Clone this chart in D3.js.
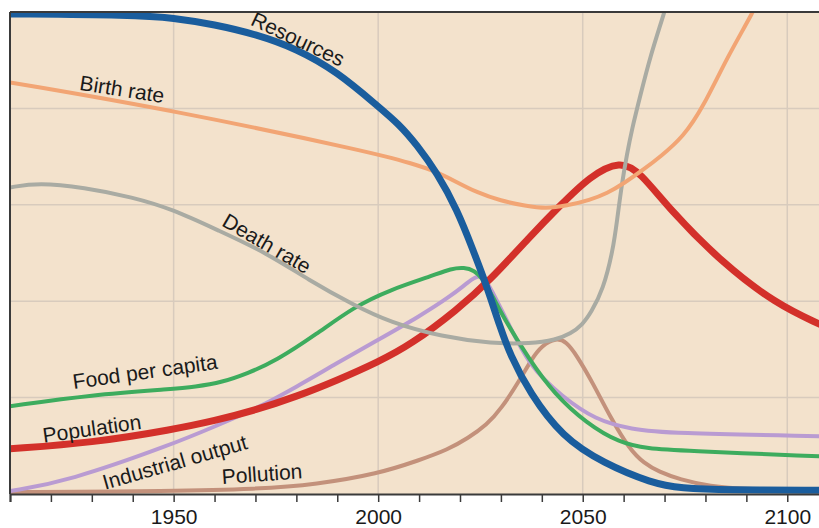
<!DOCTYPE html>
<html>
<head>
<meta charset="utf-8">
<script src="https://cdn.jsdelivr.net/npm/d3@7"></script>
<style>
  body { margin: 0; background: #fff; }
  svg text { font-family: "Liberation Sans", Arial, sans-serif; }
</style>
</head>
<body>
<svg id="chart" width="819" height="528"></svg>
<script>
// values, in grid units (0..5), by year
var resources = [[1910,4.98],[1940,4.97],[1950,4.94],[1960,4.87],[1970,4.77],[1980,4.62],[1990,4.38],[2000,4.02],[2005,3.84],[2009.5,3.62],[2014.4,3.33],[2019.3,2.95],[2023.2,2.53],[2026.6,2.15],[2029.8,1.73],[2032.2,1.45],[2037,1.05],[2045,0.59],[2055,0.32],[2067,0.11],[2074,0.06],[2085,0.04],[2108,0.04]];
var birthRate = [[1910,4.27],[1950,3.98],[2000,3.53],[2008,3.43],[2014,3.35],[2019,3.24],[2024,3.13],[2030,3.04],[2036,2.99],[2041,2.96],[2046,2.99],[2051.8,3.05],[2056,3.12],[2060,3.22],[2065,3.37],[2069,3.5],[2074.5,3.7],[2079.4,4.01],[2085.3,4.53],[2091.7,5.0],[2095,5.3]];
var deathRate = [[1910,3.18],[1917,3.23],[1928,3.18],[1940,3.08],[1950,2.95],[1960.6,2.74],[1972.8,2.5],[1983,2.22],[1994,1.96],[2002.9,1.78],[2015.6,1.63],[2027.9,1.56],[2037.3,1.56],[2043.4,1.6],[2047,1.66],[2050,1.76],[2052,1.88],[2055,2.12],[2057.4,2.53],[2058.4,2.84],[2059.6,3.23],[2060.8,3.52],[2062,3.78],[2064,4.12],[2066.5,4.54],[2070,5.0],[2072,5.3]];
var population = [[1910,0.47],[1930,0.53],[1950,0.67],[1960,0.76],[1970,0.87],[1980,1.01],[1990,1.18],[2000,1.37],[2008,1.55],[2019.3,1.91],[2027.4,2.22],[2037.1,2.67],[2044.2,2.98],[2051.8,3.3],[2059.2,3.46],[2064,3.34],[2071.3,2.95],[2084,2.4],[2097.3,1.97],[2108,1.76]];
var foodPerCapita = [[1910,0.91],[1930,1.03],[1950,1.09],[1955,1.11],[1962,1.16],[1968,1.25],[1975,1.38],[1985,1.66],[1994,1.94],[2003,2.12],[2013,2.26],[2018,2.34],[2021,2.35],[2023.5,2.32],[2025.5,2.24],[2028,2.05],[2030.5,1.84],[2037,1.39],[2043,1.04],[2051,0.73],[2059,0.53],[2066,0.47],[2074,0.45],[2108,0.39]];
var industrialOutput = [[1910,0.03],[1924,0.13],[1950,0.52],[1960,0.7],[1970,0.88],[1980,1.11],[1990,1.36],[2000,1.6],[2010,1.84],[2018,2.06],[2022,2.2],[2024.8,2.28],[2026.5,2.21],[2028.5,2.05],[2031.5,1.8],[2037,1.32],[2045,1.01],[2053,0.77],[2062,0.67],[2071,0.63],[2108,0.6]];
var pollution = [[1910,0.02],[1950,0.03],[1970,0.05],[1985,0.1],[2000,0.21],[2010,0.35],[2017,0.46],[2022,0.58],[2026.6,0.72],[2030,0.88],[2034.6,1.18],[2037.5,1.4],[2040,1.54],[2043.5,1.62],[2046,1.58],[2048.5,1.44],[2052.5,1.15],[2056.7,0.8],[2061.5,0.46],[2065,0.32],[2068.6,0.23],[2073.8,0.15],[2081,0.08],[2090,0.05],[2108,0.03]];

var tickYears = [1950, 2000, 2050, 2100];
var gridValues = [1, 2, 3, 4];

var svg = d3.select("#chart");
var x = d3.scaleLinear().domain([1910, 2108]).range([10, 820]);
var y = d3.scaleLinear().domain([0, 5]).range([494, 12]);

svg.append("rect")
  .attr("x", x(1910)).attr("y", y(5))
  .attr("width", x(2108) - x(1910)).attr("height", y(0) - y(5))
  .attr("fill", "#f3e2cc");

svg.append("clipPath").attr("id", "plot")
  .append("rect")
  .attr("x", x(1910)).attr("y", y(5))
  .attr("width", x(2108) - x(1910)).attr("height", y(0) - y(5));

// grid
svg.selectAll(".hg").data(gridValues).enter().append("line")
  .attr("x1", x(1910)).attr("x2", x(2108))
  .attr("y1", d => y(d)).attr("y2", d => y(d))
  .attr("stroke", "#d8cbbd").attr("stroke-width", 1.5);
svg.selectAll(".vg").data(tickYears).enter().append("line")
  .attr("x1", d => x(d)).attr("x2", d => x(d))
  .attr("y1", y(5)).attr("y2", y(0))
  .attr("stroke", "#d8cbbd").attr("stroke-width", 1.5);

var line = d3.line()
  .x(d => x(d[0]))
  .y(d => y(d[1]))
  .curve(d3.curveBasis);

var series = [
  {data: pollution, color: "#c3917b", w: 4},
  {data: industrialOutput, color: "#b99bd2", w: 4},
  {data: foodPerCapita, color: "#3dac5e", w: 4},
  {data: population, color: "#d3302a", w: 7},
  {data: deathRate, color: "#a9aba3", w: 4},
  {data: birthRate, color: "#f2a574", w: 4},
  {data: resources, color: "#1a5d9d", w: 7}
];

var g = svg.append("g").attr("clip-path", "url(#plot)");
series.forEach(function(s) {
  g.append("path")
    .attr("d", line(s.data))
    .attr("fill", "none")
    .attr("stroke", s.color)
    .attr("stroke-width", s.w)
    .attr("stroke-linecap", "round");
});

// frame
svg.append("line").attr("x1", x(1910)).attr("x2", x(2108))
  .attr("y1", y(5)).attr("y2", y(5))
  .attr("stroke", "#3a3a3a").attr("stroke-width", 2);
svg.append("line").attr("x1", x(1910)).attr("x2", x(1910))
  .attr("y1", y(5)).attr("y2", y(0))
  .attr("stroke", "#3a3a3a").attr("stroke-width", 2);

// x axis
var axis = d3.axisBottom(x)
  .tickValues(d3.range(1910, 2101, 10))
  .tickSize(8)
  .tickFormat(d => tickYears.includes(d) ? d : "");
var ax = svg.append("g").attr("transform", "translate(0," + y(0) + ")").call(axis);
ax.select(".domain").attr("stroke", "#3a3a3a").attr("stroke-width", 2);
ax.selectAll(".tick line").attr("stroke", "#3a3a3a").attr("stroke-width", 1.5);
ax.selectAll(".tick text")
  .attr("y", 15)
  .attr("font-size", 21)
  .attr("font-family", "Liberation Sans, Arial, sans-serif")
  .attr("fill", "#1a1a1a");

// curve labels
var labels = [
  {text: "Resources", year: 1980.4, value: 4.72, angle: 25},
  {text: "Birth rate", year: 1937.4, value: 4.2, angle: 9},
  {text: "Death rate", year: 1972.8, value: 2.6, angle: 30},
  {text: "Food per capita", year: 1943, value: 1.27, angle: -8},
  {text: "Population", year: 1930, value: 0.68, angle: -8},
  {text: "Industrial output", year: 1950.3, value: 0.33, angle: -16},
  {text: "Pollution", year: 1971.6, value: 0.21, angle: -4}
];
svg.selectAll(".lbl").data(labels).enter().append("text")
  .attr("transform", d => "translate(" + x(d.year) + "," + y(d.value) + ") rotate(" + d.angle + ")")
  .attr("text-anchor", "middle")
  .attr("dy", "0.35em")
  .attr("font-size", 21)
  .attr("fill", "#1a1a1a")
  .text(d => d.text);
</script>
</body>
</html>
